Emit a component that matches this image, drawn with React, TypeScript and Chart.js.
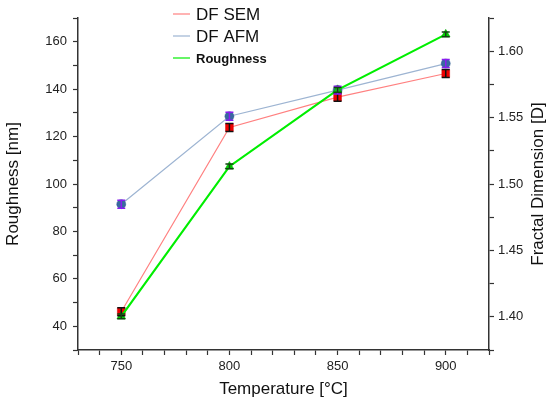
import { useEffect, useRef } from "react";
import { Chart, registerables } from "chart.js";

Chart.register(...registerables);

const temperatures = [750, 800, 850, 900];
const dfSem = [1.4038, 1.5426, 1.5654, 1.5832];
const dfSemErr = [0.003, 0.003, 0.003, 0.003];
const dfAfm = [1.4848, 1.551, 1.5707, 1.5907];
const dfAfmErr = [0.003, 0.003, 0.003, 0.003];
const roughness = [44.2, 107.4, 139.7, 163.1];
const roughnessErr = [1, 1, 1, 1];

const FONT = "Arial, 'Liberation Sans', sans-serif";

// vertical error bars with caps, drawn over the markers
const errorBars = {
  id: "errorBars",
  afterDatasetsDraw(chart: any) {
    const ctx = chart.ctx;
    chart.data.datasets.forEach((ds: any, i: number) => {
      if (!ds.err) return;
      const meta = chart.getDatasetMeta(i);
      const scale = chart.scales[ds.yAxisID];
      ctx.save();
      ctx.strokeStyle = ds.errColor;
      ctx.lineWidth = 1.5;
      meta.data.forEach((pt: any, j: number) => {
        const top = scale.getPixelForValue(ds.vals[j] + ds.err[j]);
        const bot = scale.getPixelForValue(ds.vals[j] - ds.err[j]);
        ctx.beginPath();
        ctx.moveTo(pt.x, top);
        ctx.lineTo(pt.x, bot);
        ctx.moveTo(pt.x - 4, top);
        ctx.lineTo(pt.x + 4, top);
        ctx.moveTo(pt.x - 4, bot);
        ctx.lineTo(pt.x + 4, bot);
        ctx.stroke();
      });
      ctx.restore();
    });
  },
};

const legendBox = {
  id: "legendBox",
  afterDraw(chart: any) {
    const ctx = chart.ctx;
    const rows = [
      { label: chart.data.datasets[0].label, color: chart.data.datasets[0].borderColor, font: `17px ${FONT}`, y: 14 },
      { label: chart.data.datasets[1].label, color: chart.data.datasets[1].borderColor, font: `17px ${FONT}`, y: 36 },
      { label: chart.data.datasets[2].label, color: chart.data.datasets[2].borderColor, font: `bold 13px ${FONT}`, y: 58 },
    ];
    ctx.save();
    rows.forEach((r) => {
      ctx.strokeStyle = r.color;
      ctx.lineWidth = 1.2;
      ctx.beginPath();
      ctx.moveTo(173, r.y);
      ctx.lineTo(190, r.y);
      ctx.stroke();
      ctx.fillStyle = "#111";
      ctx.font = r.font;
      ctx.textBaseline = "middle";
      ctx.textAlign = "left";
      ctx.fillText(r.label, 196, r.y + 1);
    });
    // right axis title reads bottom to top
    ctx.font = `17px ${FONT}`;
    ctx.fillStyle = "#111";
    ctx.translate(538, (chart.chartArea.top + chart.chartArea.bottom) / 2);
    ctx.rotate(-Math.PI / 2);
    ctx.textAlign = "center";
    ctx.textBaseline = "middle";
    ctx.fillText("Fractal Dimension [D]", 0, 0);
    ctx.restore();
  },
};

const axisGrid = {
  drawOnChartArea: false,
  drawTicks: true,
  tickLength: 5,
  tickColor: "#333",
  tickWidth: 1.2,
};

export default function App() {
  const canvasRef = useRef<HTMLCanvasElement | null>(null);

  useEffect(() => {
    document.body.style.margin = "0";
    if (!canvasRef.current) return;

    const chart = new Chart(canvasRef.current, {
      type: "line",
      data: {
        datasets: [
          {
            label: "DF SEM",
            data: temperatures.map((t, i) => ({ x: t, y: dfSem[i] })) as any,
            vals: dfSem,
            err: dfSemErr,
            errColor: "#111",
            yAxisID: "y1",
            borderColor: "#ff8080",
            borderWidth: 1.2,
            pointStyle: "rect",
            pointRadius: 5.5,
            pointBackgroundColor: "#f00000",
            pointBorderColor: "#d00000",
            pointBorderWidth: 0.5,
            order: 2,
          } as any,
          {
            label: "DF AFM",
            data: temperatures.map((t, i) => ({ x: t, y: dfAfm[i] })) as any,
            vals: dfAfm,
            err: dfAfmErr,
            errColor: "#8a1cf0",
            yAxisID: "y1",
            borderColor: "#9db4d2",
            borderWidth: 1.2,
            pointStyle: "circle",
            pointRadius: 4.5,
            pointBackgroundColor: "#3a68a0",
            pointBorderColor: "#2f5a8e",
            pointBorderWidth: 0.5,
            order: 1,
          } as any,
          {
            label: "Roughness",
            data: temperatures.map((t, i) => ({ x: t, y: roughness[i] })) as any,
            vals: roughness,
            err: roughnessErr,
            errColor: "#114411",
            yAxisID: "y",
            borderColor: "#00ee00",
            borderWidth: 2.2,
            pointStyle: "triangle",
            pointRadius: 5,
            pointBackgroundColor: "#00d000",
            pointBorderColor: "#00a000",
            pointBorderWidth: 0.5,
            order: 0,
          } as any,
        ],
      },
      options: {
        responsive: false,
        animation: false,
        layout: { padding: { top: 18, left: 0, right: 0, bottom: 0 } },
        plugins: {
          legend: { display: false },
          tooltip: { enabled: false },
        },
        scales: {
          x: {
            type: "linear",
            min: 730,
            max: 920,
            afterFit: (s: any) => {
              s.height = 60;
            },
            border: { display: true, color: "#333", width: 1.5 },
            grid: axisGrid,
            ticks: {
              stepSize: 10,
              autoSkip: false,
              maxRotation: 0,
              padding: 4,
              color: "#222",
              font: { family: FONT, size: 13 },
              callback: (v: any) => (v % 50 === 0 && v >= 750 && v <= 900 ? String(v) : ""),
            },
            title: {
              display: true,
              text: "Temperature [°C]",
              color: "#111",
              font: { family: FONT, size: 17 },
              padding: { top: 0, bottom: 10 },
            },
          },
          y: {
            type: "linear",
            position: "left",
            min: 30,
            max: 170,
            afterFit: (s: any) => {
              s.width = 78;
            },
            border: { display: true, color: "#333", width: 1.5 },
            grid: axisGrid,
            ticks: {
              stepSize: 10,
              autoSkip: false,
              padding: 6,
              color: "#222",
              font: { family: FONT, size: 13 },
              callback: (v: any) => (v % 20 === 0 && v >= 40 && v <= 160 ? String(v) : ""),
            },
            title: {
              display: true,
              text: "Roughness [nm]",
              color: "#111",
              font: { family: FONT, size: 17 },
              padding: { top: 3, bottom: 0 },
            },
          },
          y1: {
            type: "linear",
            position: "right",
            min: 1.375,
            max: 1.625,
            afterFit: (s: any) => {
              s.width = 61;
            },
            border: { display: true, color: "#333", width: 1.5 },
            grid: axisGrid,
            ticks: {
              stepSize: 0.025,
              autoSkip: false,
              padding: 4,
              color: "#222",
              font: { family: FONT, size: 13 },
              callback: (v: any) => {
                const n = v * 20;
                return Math.abs(n - Math.round(n)) < 1e-6 && v > 1.39 && v < 1.61 ? v.toFixed(2) : "";
              },
            },
          },
        },
      } as any,
      plugins: [errorBars, legendBox],
    });

    return () => {
      chart.destroy();
    };
  }, []);

  return (
    <div style={{ width: 550, height: 410, background: "#fff" }}>
      <canvas ref={canvasRef} width={550} height={410} />
    </div>
  );
}
